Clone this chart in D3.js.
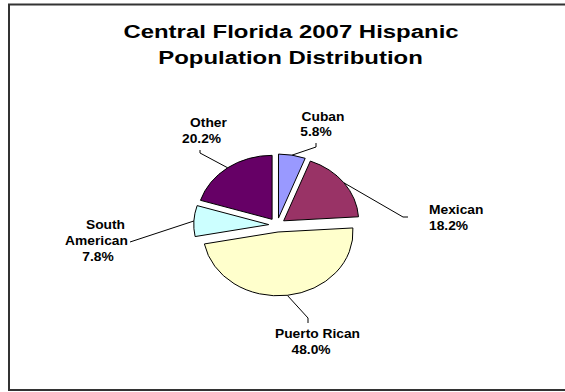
<!DOCTYPE html>
<html>
<head>
<meta charset="utf-8">
<script src="https://cdn.jsdelivr.net/npm/d3@7"></script>
<style>
  html, body { margin: 0; padding: 0; background: #fff; }
  svg { display: block; }
  text { font-family: "Liberation Sans", Arial, sans-serif; font-weight: bold; fill: #000; }
</style>
</head>
<body>
<svg id="chart" width="565" height="392"></svg>
<script>

var categories = ["Cuban", "Mexican", "Puerto Rican", "South American", "Other"];
var shares = [5.8, 18.2, 48.0, 7.8, 20.2];
var colors = ["#9999ff", "#993366", "#ffffcc", "#ccffff", "#660066"];
var titleLines = ["Central Florida 2007 Hispanic", "Population Distribution"];

// label layout: text lines (x center or left, baseline), leader elbow points
var labelLayout = [
  {lines: [["Cuban", 323, 121], ["5.8%", 316, 136]], anchor: "middle", leader: [[316, 147], [316, 143]]},
  {lines: [["Mexican", 429, 214], ["18.2%", 429, 230]], anchor: "start", leader: [[403, 217], [408, 217]]},
  {lines: [["Puerto Rican", 317.5, 338], ["48.0%", 311, 354]], anchor: "middle", leader: [[308, 318], [308, 323]]},
  {lines: [["South", 105.5, 229], ["American", 96.5, 245], ["7.8%", 98, 261]], anchor: "middle", leader: [[130, 242]]},
  {lines: [["Other", 208.5, 127], ["20.2%", 201.5, 143]], anchor: "middle", leader: [[200, 153], [200, 150]]}
];

var svg = d3.select("#chart"),
    cx = 277, cy = 225,
    rx = 75, ry = 64,
    explode = 0.11,
    stretch = 1.15;

// chart frame
svg.append("rect")
    .attr("x", 9).attr("y", 4.5)
    .attr("width", 570).attr("height", 385.5)
    .attr("fill", "#fff")
    .attr("stroke", "#333")
    .attr("stroke-width", 2);

// stretched text helper (the original chart is scaled wider than tall)
function stext(sel, str, x, y, size, sx, anchor) {
  return sel.append("text")
      .attr("transform", "translate(" + x + "," + y + ") scale(" + sx + ",1)")
      .attr("text-anchor", anchor)
      .style("font-size", size + "px")
      .text(str);
}

stext(svg, titleLines[0], 291, 38, 19, 1.26, "middle");
stext(svg, titleLines[1], 290.5, 64, 19, 1.26, "middle");

var data = categories.map(function(c, i) { return {name: c, value: shares[i], color: colors[i]}; });

var pie = d3.pie()
    .sort(null)
    .value(function(d) { return d.value; });

var arc = d3.arc()
    .innerRadius(0)
    .outerRadius(1);

var arcs = pie(data);

arcs.forEach(function(a, i) {
  var mid = (a.startAngle + a.endAngle) / 2;
  var ox = cx + Math.sin(mid) * explode * rx,
      oy = cy - Math.cos(mid) * explode * ry;

  svg.append("g")
      .attr("transform", "translate(" + ox + "," + oy + ") scale(" + rx + "," + ry + ")")
    .append("path")
      .attr("d", arc(a))
      .attr("fill", a.data.color)
      .attr("stroke", "#000")
      .attr("stroke-width", 1)
      .attr("vector-effect", "non-scaling-stroke");

  // leader from slice edge at mid angle to label
  var lay = labelLayout[i];
  var pts = [[ox + Math.sin(mid) * rx, oy - Math.cos(mid) * ry]].concat(lay.leader);
  svg.append("path")
      .attr("d", d3.line()(pts))
      .attr("fill", "none")
      .attr("stroke", "#000")
      .attr("stroke-width", 1);

  lay.lines.forEach(function(l) {
    stext(svg, l[0], l[1], l[2], 12, stretch, lay.anchor);
  });
});

</script>
</body>
</html>
